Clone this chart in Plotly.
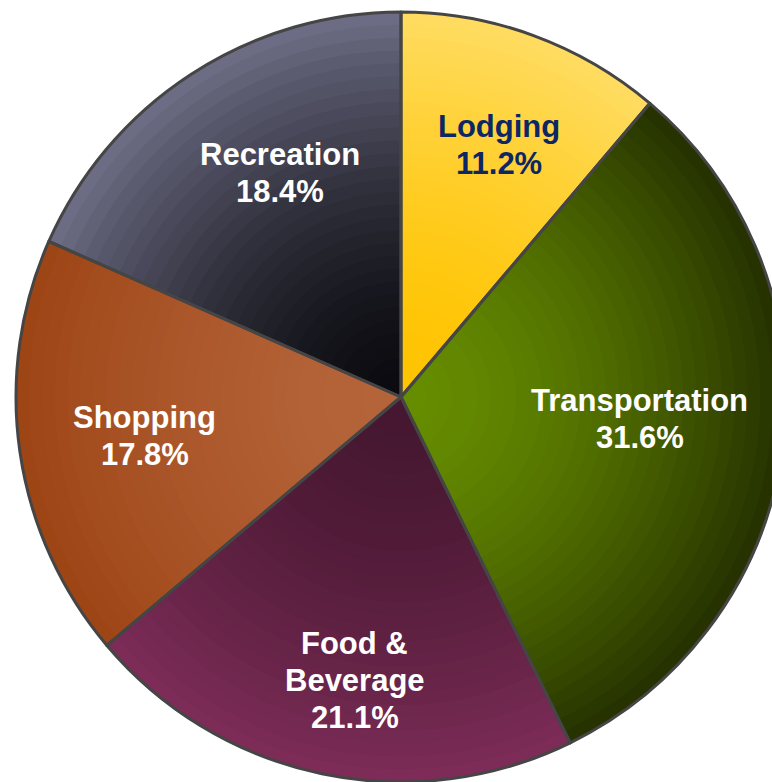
import math
import plotly.graph_objects as go

categories = ["Lodging", "Transportation", "Food &<br>Beverage", "Shopping", "Recreation"]
shares = [11.2, 31.6, 21.1, 17.8, 18.4]

# inner (near centre) and outer colours per slice, to fake the gradient fills
inner_cols = ["#ffc400", "#668c00", "#461730", "#b5643a", "#0b0b10"]
outer_cols = ["#ffdc60", "#263200", "#7c2c57", "#9e4516", "#6c6c84"]
text_cols = ["#0d2765", "white", "white", "white", "white"]
# label placement: fraction of radius, angle nudge (deg) from slice middle
lab_r = [0.706, 0.623, 0.740, 0.673, 0.666]
lab_da = [0.9, -2.2, -2.5, 0.0, 4.9]


def hex_rgb(h):
    h = h.lstrip("#")
    return [int(h[i:i + 2], 16) for i in (0, 2, 4)]


def mix(a, b, t):
    a, b = hex_rgb(a), hex_rgb(b)
    return "rgb(%d,%d,%d)" % tuple(round(a[i] + (b[i] - a[i]) * t) for i in range(3))


W, H = 790, 782
dom = dict(x=[0, 1], y=[0, 1])
fig = go.Figure()

n_rings = 30
for k in range(n_rings):
    t = (k / (n_rings - 1)) ** 1.6
    fig.add_trace(go.Pie(
        values=shares, labels=categories, sort=False, direction="clockwise",
        hole=k / n_rings, domain=dom, textinfo="none", hoverinfo="skip",
        marker=dict(colors=[mix(a, b, t) for a, b in zip(inner_cols, outer_cols)],
                    line=dict(width=0)),
        showlegend=False,
    ))

# outline on top
fig.add_trace(go.Pie(
    values=shares, labels=categories, sort=False, direction="clockwise",
    domain=dom, textinfo="none", hoverinfo="skip",
    marker=dict(colors=["rgba(0,0,0,0)"] * 5, line=dict(color="#454545", width=3)),
    showlegend=False,
))

# labels, one annotation per line so the line spacing is tight
total = sum(shares)
start = 0.0
for i, (c, v) in enumerate(zip(categories, shares)):
    mid = (start + v / 2) / total * 360 + lab_da[i]
    start += v
    cx = 0.5 + 0.5 * lab_r[i] * math.sin(math.radians(mid))
    cy = 0.5 + 0.5 * lab_r[i] * math.cos(math.radians(mid))
    lines = c.split("<br>") + ["%.1f%%" % v]
    n = len(lines)
    for j, ln in enumerate(lines):
        fig.add_annotation(
            x=cx, y=cy, xref="paper", yref="paper", text="<b>%s</b>" % ln,
            showarrow=False, xanchor="center", yanchor="middle",
            yshift=-37 * (j - (n - 1) / 2) - 2,
            font=dict(family="Liberation Sans, Arial", size=31, color=text_cols[i]),
        )

fig.update_layout(
    width=W, height=H,
    margin=dict(l=16, r=4, t=12, b=0),
    paper_bgcolor="white",
    plot_bgcolor="white",
)

fig.write_html("out.html", config={"displayModeBar": False},
               post_script="document.body.style.margin='0';document.body.style.overflow='hidden';")
